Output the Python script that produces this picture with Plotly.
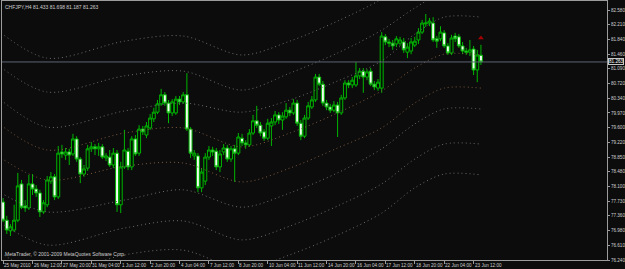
import plotly.graph_objects as go

symbol_title = "CHFJPY,H4 81.433 81.698 81.187 81.263"
copyright_text = "MetaTrader, © 2001-2009 MetaQuotes Software Corp."

opens = [77.71, 77.25, 76.98, 77.00, 77.25, 78.17, 77.61, 77.56, 78.17, 78.04,
         77.94, 77.46, 77.64, 78.24, 78.35, 77.84, 78.98, 78.90, 78.98, 78.93,
         79.31, 78.80, 78.42, 78.57, 79.06, 79.11, 79.06, 79.11, 78.83, 78.85,
         78.65, 78.95, 77.64, 78.60, 79.00, 78.60, 79.31, 78.95, 79.56, 79.41,
         79.59, 79.82, 79.99, 80.20, 80.43, 80.22, 79.97, 79.97, 80.32, 80.25,
         80.43, 79.56, 78.88, 78.88, 78.07, 78.24, 78.85, 79.03, 79.00, 78.60,
         78.98, 79.08, 78.80, 79.06, 78.95, 79.33, 79.21, 79.16, 79.46, 79.77,
         79.66, 79.49, 79.33, 79.64, 79.74, 79.92, 79.79, 79.87, 80.04, 79.97,
         80.22, 79.71, 79.38, 79.84, 80.12, 80.30, 80.88, 80.70, 80.22, 80.12,
         80.04, 80.17, 79.97, 80.35, 80.73, 80.68, 80.68, 80.91, 81.03, 80.88,
         81.03, 80.70, 80.60, 80.60, 81.90, 81.77, 81.74, 81.72, 81.74, 81.77,
         81.51, 81.54, 81.69, 81.82, 82.02, 82.23, 82.25, 82.25, 81.85, 81.85,
         82.00, 81.67, 81.49, 81.92, 81.90, 81.67, 81.54, 81.51, 81.59, 81.06,
         81.433]
highs = [77.81, 77.36, 77.15, 77.64, 78.45, 78.27, 77.76, 78.40, 78.42, 78.14,
         78.02, 77.76, 78.37, 78.47, 78.42, 79.13, 79.16, 79.08, 79.06, 79.44,
         79.38, 78.85, 78.65, 79.16, 79.23, 79.18, 79.21, 79.18, 78.95, 79.03,
         79.08, 79.03, 78.73, 79.54, 79.08, 79.38, 79.41, 79.66, 79.64, 79.74,
         79.94, 80.10, 80.30, 80.58, 80.50, 80.30, 80.32, 80.40, 80.40, 80.50,
         80.98, 79.61, 79.03, 78.95, 78.57, 78.95, 79.13, 79.11, 79.08, 79.03,
         79.18, 79.16, 79.13, 79.16, 79.46, 79.44, 79.28, 79.56, 79.92, 80.15,
         79.74, 79.56, 79.82, 79.84, 80.02, 79.99, 79.99, 80.22, 80.12, 80.32,
         80.30, 79.79, 79.92, 80.25, 80.40, 80.96, 80.96, 80.78, 80.30, 80.20,
         80.27, 80.25, 80.43, 80.80, 80.80, 80.88, 81.26, 81.11, 81.11, 81.08,
         81.11, 80.78, 80.83, 82.02, 81.97, 81.85, 81.82, 81.92, 81.90, 81.87,
         81.74, 81.87, 81.90, 82.12, 82.33, 82.48, 82.38, 82.40, 81.92, 82.17,
         82.07, 81.74, 81.95, 82.00, 81.97, 81.77, 81.62, 81.82, 81.67, 81.57,
         81.698]
lows = [77.20, 76.90, 76.85, 76.95, 77.20, 77.53, 77.46, 77.51, 77.89, 77.84,
        77.33, 77.41, 77.58, 78.17, 77.76, 77.79, 78.83, 78.78, 78.65, 78.88,
        78.73, 78.19, 78.35, 78.50, 78.98, 78.90, 78.88, 78.80, 78.75, 78.60,
        78.57, 77.46, 77.43, 78.55, 78.52, 78.52, 78.88, 78.88, 79.41, 79.33,
        79.54, 79.74, 79.94, 80.15, 80.15, 79.71, 79.89, 79.92, 80.17, 80.20,
        79.51, 78.83, 78.78, 77.96, 77.96, 78.14, 78.78, 78.88, 78.52, 78.47,
        78.90, 78.73, 78.73, 78.22, 78.90, 79.13, 79.06, 79.11, 79.41, 79.59,
        79.38, 79.26, 79.28, 79.13, 79.66, 79.69, 79.54, 79.82, 79.89, 79.92,
        79.64, 79.28, 79.33, 79.79, 80.07, 80.25, 80.65, 80.15, 80.04, 79.97,
        79.99, 79.36, 79.92, 80.30, 80.60, 80.60, 80.63, 80.83, 80.48, 80.80,
        80.65, 80.55, 80.53, 80.48, 81.69, 81.64, 81.57, 81.64, 81.67, 81.49,
        81.36, 81.46, 81.64, 81.72, 81.97, 82.15, 82.17, 81.77, 81.62, 81.79,
        81.62, 81.44, 81.44, 81.77, 81.62, 81.46, 81.44, 81.41, 80.93, 80.75,
        81.187]
closes = [77.25, 77.00, 77.08, 77.25, 78.12, 77.58, 77.56, 78.17, 78.04, 77.94,
          77.46, 77.69, 78.27, 78.35, 77.84, 78.95, 78.93, 78.98, 78.90, 79.31,
          78.80, 78.42, 78.55, 79.06, 79.11, 79.06, 79.11, 78.85, 78.88, 78.65,
          78.95, 77.64, 78.60, 79.03, 78.60, 79.31, 78.93, 79.56, 79.49, 79.64,
          79.84, 79.99, 80.20, 80.43, 80.22, 79.97, 80.25, 80.32, 80.25, 80.43,
          79.56, 78.95, 78.95, 78.07, 78.47, 78.85, 79.03, 78.98, 78.60, 78.93,
          79.08, 78.80, 79.06, 78.95, 79.36, 79.21, 79.16, 79.46, 79.77, 79.66,
          79.46, 79.33, 79.71, 79.74, 79.92, 79.79, 79.89, 80.04, 79.97, 80.22,
          79.71, 79.38, 79.84, 80.15, 80.30, 80.88, 80.70, 80.22, 80.12, 80.04,
          80.17, 79.97, 80.35, 80.73, 80.68, 80.80, 80.91, 81.03, 80.88, 81.01,
          80.70, 80.63, 80.75, 81.92, 81.77, 81.74, 81.67, 81.85, 81.82, 81.57,
          81.64, 81.77, 81.79, 82.02, 82.25, 82.25, 82.30, 81.82, 81.79, 82.02,
          81.67, 81.49, 81.87, 81.85, 81.67, 81.54, 81.51, 81.57, 81.06, 81.44,
          81.263]
bar_index = list(range(len(opens)))

time_tick_index = [0, 8, 16, 24, 32, 40, 48, 56, 64, 72, 80, 88, 96, 104, 112, 120, 128]
time_tick_labels = ["25 May 2010", "26 May 12:00", "27 May 20:00", "31 May 04:00",
                    "1 Jun 12:00", "2 Jun 20:00", "4 Jun 04:00", "7 Jun 12:00",
                    "8 Jun 20:00", "10 Jun 04:00", "11 Jun 12:00", "14 Jun 20:00",
                    "16 Jun 04:00", "17 Jun 12:00", "18 Jun 20:00", "22 Jun 04:00",
                    "23 Jun 12:00"]

price_ticks = [82.580, 82.210, 81.840, 81.460, 81.090, 80.720, 80.340, 79.970, 79.600,
               79.220, 78.850, 78.480, 78.100, 77.730, 77.360, 76.980, 76.610, 76.240]
price_tick_labels = ["82.580", "82.210", "81.840", "81.460", "81.090", "80.720", "80.340",
                     "79.970", "79.600", "79.220", "78.850", "78.480", "78.100", "77.730",
                     "77.360", "76.980", "76.610", "76.240"]
last_price = 81.263

band_x = [-0.6, 12, 33, 49, 65, 78, 91, 103, 112, 120, 130]
band_t = [82.00, 81.36, 81.79, 81.92, 81.44, 81.79, 82.30, 82.86, 83.44, 83.80, 83.77]
band_a = [81.13, 80.50, 80.91, 81.03, 80.55, 80.98, 81.49, 82.07, 82.63, 83.04, 83.09]
band_b = [80.30, 79.61, 80.02, 80.22, 79.99, 80.30, 80.78, 81.29, 81.97, 82.40, 82.40]
band_m = [79.66, 79.03, 79.46, 79.59, 79.11, 79.46, 79.97, 80.53, 81.11, 81.46, 81.44]
band_c = [78.83, 78.27, 78.62, 78.70, 78.22, 78.57, 79.08, 79.59, 80.22, 80.60, 80.60]
band_d = [77.94, 77.46, 77.76, 78.02, 77.58, 77.94, 78.45, 79.06, 79.69, 80.07, 80.07]
band_e = [77.18, 76.62, 77.05, 77.23, 76.75, 77.10, 77.61, 78.17, 78.80, 79.18, 79.18]
band_f = [76.42, 75.86, 76.37, 76.49, 76.01, 76.37, 76.87, 77.43, 78.07, 78.42, 78.40]

GRAY_DOT = "#6c6c6c"
BROWN_DOT = "#7c5a40"
band_lines = [(band_t, GRAY_DOT), (band_a, GRAY_DOT), (band_b, GRAY_DOT),
              (band_m, BROWN_DOT), (band_c, BROWN_DOT), (band_d, GRAY_DOT),
              (band_e, GRAY_DOT), (band_f, GRAY_DOT)]

marker_index = [130]
marker_price = [81.87]

BG = "#0c0c0c"
TXT = "#cfcfcf"
FONT = "Liberation Sans"

fig = go.Figure()

for vals, col in band_lines:
    fig.add_trace(go.Scatter(
        x=band_x, y=vals, mode="lines",
        line=dict(color=col, width=1, dash="1px,3px", shape="spline", smoothing=0.9),
        hoverinfo="skip"))

fig.add_trace(go.Candlestick(
    x=bar_index, open=opens, high=highs, low=lows, close=closes,
    increasing=dict(line=dict(color="#00b400", width=1), fillcolor="#041204"),
    decreasing=dict(line=dict(color="#00b400", width=1), fillcolor="#f0fff0"),
    whiskerwidth=0))

fig.add_trace(go.Scatter(
    x=marker_index, y=marker_price, mode="markers",
    marker=dict(symbol="triangle-up", size=5, color="#a40000"), hoverinfo="skip"))

fig.add_shape(type="line", xref="paper", yref="y", x0=0, x1=1, y0=last_price, y1=last_price,
              line=dict(color="#5c6472", width=1))

fig.add_annotation(xref="paper", yref="paper", x=0, y=1, xanchor="left", yanchor="top",
                   xshift=1, yshift=-1, text=symbol_title, showarrow=False,
                   font=dict(family=FONT, size=5, color=TXT))
fig.add_annotation(xref="paper", yref="paper", x=0, y=0, xanchor="left", yanchor="bottom",
                   xshift=1, yshift=1, text=copyright_text, showarrow=False,
                   font=dict(family=FONT, size=5, color=TXT))

for xi, lab in zip(time_tick_index, time_tick_labels):
    fig.add_annotation(xref="x", yref="paper", x=xi, y=0, xanchor="left", yanchor="top",
                       xshift=-1, yshift=-1, text=lab, showarrow=False,
                       font=dict(family=FONT, size=4.6, color=TXT))

fig.add_annotation(xref="paper", yref="y", x=1, y=last_price, xanchor="left", yanchor="middle",
                   xshift=1, text="81.263", showarrow=False, borderpad=0,
                   bordercolor="#c8c8c8", borderwidth=1, bgcolor=BG,
                   font=dict(family=FONT, size=4.6, color="#ffffff"))

fig.update_layout(
    width=625, height=269,
    margin=dict(l=2, r=18, t=1, b=9, pad=0),
    paper_bgcolor=BG, plot_bgcolor=BG,
    showlegend=False,
    boxgap=0.1, boxgroupgap=0.1,
    xaxis=dict(range=[-0.3, 164.3], showgrid=False, zeroline=False, showline=True,
               linecolor="#9c9c9c", linewidth=1, mirror=True,
               tickvals=time_tick_index, ticks="outside", ticklen=3, tickcolor="#9c9c9c",
               showticklabels=False, rangeslider=dict(visible=False), fixedrange=True),
    yaxis=dict(range=[76.24, 82.809], side="right", showgrid=False, zeroline=False,
               showline=True, linecolor="#9c9c9c", linewidth=1, mirror=True,
               tickvals=price_ticks, ticktext=price_tick_labels, ticks="outside",
               ticklen=2, tickcolor="#9c9c9c",
               tickfont=dict(family=FONT, size=4.6, color=TXT), fixedrange=True),
)

fig.write_html("out.html")
